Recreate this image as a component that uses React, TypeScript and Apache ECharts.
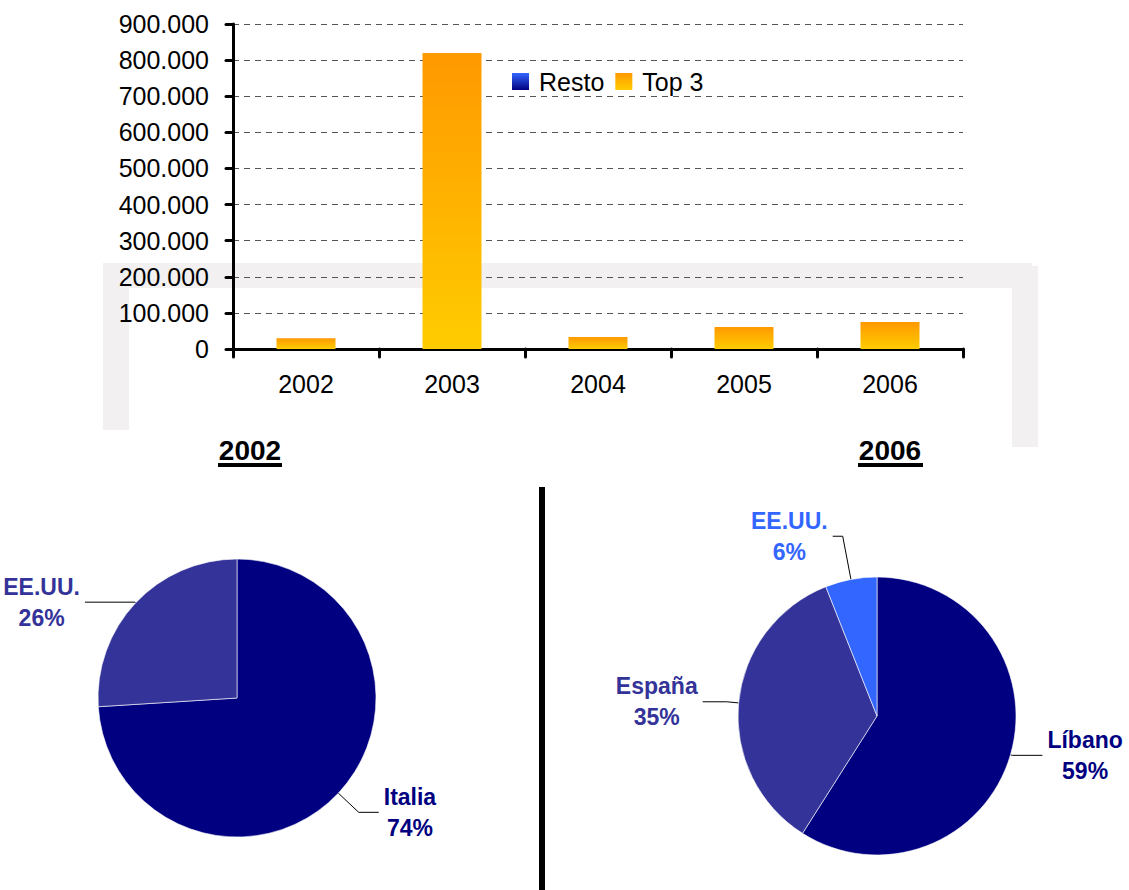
import React, { useEffect, useRef } from "react";
import * as echarts from "echarts";

const years = ["2002", "2003", "2004", "2005", "2006"];
const restoValues = [0, 0, 0, 0, 0];
const top3Values = [30000, 820000, 33000, 61000, 75000];
const yTicks = { min: 0, max: 900000, interval: 100000 };

const pie2002Names = ["Italia", "EE.UU."];
const pie2002Values = [74, 26];
const pie2002Colors = ["#000080", "#333399"];
const pie2002Lines = [
  { length: 28, length2: 20 },
  { length: 1, length2: 50 },
];

const pie2006Names = ["Líbano", "España", "EE.UU."];
const pie2006Values = [59, 35, 6];
const pie2006Colors = ["#000080", "#333399", "#3366FF"];
const pie2006Lines = [
  { length: 2, length2: 30 },
  { length: 12, length2: 24 },
  { length: 44, length2: 10 },
];

const FONT = "'Liberation Sans', Arial, Helvetica, sans-serif";

function fmtThousands(v: number): string {
  return String(v).replace(/\B(?=(\d{3})+(?!\d))/g, ".");
}

function pieData(names: string[], values: number[], colors: string[], lines: any[]) {
  return names.map((n, i) => ({
    name: n,
    value: values[i],
    itemStyle: { color: colors[i] },
    label: { color: colors[i] },
    labelLine: { length: lines[i].length, length2: lines[i].length2 },
  }));
}

function centerLabel(params: any) {
  const pts = params.labelLinePoints;
  if (!pts || pts.length < 3) return {};
  const end = pts[2];
  const dir = end[0] >= pts[1][0] ? 1 : -1;
  const w = params.labelRect.width;
  return {
    x: end[0] + dir * (5 + w / 2),
    y: end[1],
    align: "center",
    verticalAlign: "middle",
    labelLinePoints: pts,
  };
}

const pieLabel = {
  show: true,
  position: "outside",
  alignTo: "none",
  formatter: (p: any) => `${p.name}\n${p.value}%`,
  fontFamily: FONT,
  fontWeight: "bold",
  fontSize: 23,
  lineHeight: 31,
  align: "center",
};

export default function App() {
  const ref = useRef<HTMLDivElement>(null);
  useEffect(() => {
    if (!ref.current) return;
    const chart = echarts.init(ref.current, null, { renderer: "svg" });
    const frame = "#F2F0F0";
    const option: any = {
      animation: false,
      backgroundColor: "#ffffff",
      textStyle: { fontFamily: FONT },
      legend: {
        data: ["Resto", "Top 3"],
        left: 512,
        top: 69,
        padding: 0,
        itemWidth: 17,
        itemHeight: 17,
        itemGap: 11,
        icon: "rect",
        textStyle: { fontSize: 25, color: "#000", fontFamily: FONT, padding: [0, 0, 0, 5] },
      },
      grid: { left: 233, right: 166, top: 24, bottom: 541, outerBoundsMode: "none", containLabel: false },
      xAxis: {
        type: "category",
        data: years,
        boundaryGap: true,
        axisLine: { show: true, lineStyle: { color: "#000", width: 3, cap: "round" } },
        axisTick: { show: true, length: 8, alignWithLabel: false, lineStyle: { color: "#000", width: 3, cap: "round" } },
        axisLabel: { fontSize: 25, color: "#000", margin: 22, fontFamily: FONT },
        splitLine: { show: false },
      },
      yAxis: {
        type: "value",
        min: yTicks.min,
        max: yTicks.max,
        interval: yTicks.interval,
        axisLine: { show: true, lineStyle: { color: "#000", width: 3, cap: "round" } },
        axisTick: { show: true, length: 7, lineStyle: { color: "#000", width: 3, cap: "round" } },
        axisLabel: { fontSize: 25, color: "#000", margin: 24, fontFamily: FONT, formatter: fmtThousands },
        splitLine: { show: true, lineStyle: { color: "#555", width: 1, type: [6, 5] } },
      },
      graphic: [
        { type: "rect", z: -10, shape: { x: 103, y: 263, width: 929, height: 25 }, style: { fill: frame } },
        { type: "rect", z: -10, shape: { x: 103, y: 263, width: 26, height: 167 }, style: { fill: frame } },
        { type: "rect", z: -10, shape: { x: 1012, y: 266, width: 26, height: 181 }, style: { fill: frame } },
        { type: "text", x: 250, y: 450, style: { text: "2002", fill: "#000", font: `bold 28px ${FONT}`, textAlign: "center", textVerticalAlign: "middle" } },
        { type: "rect", shape: { x: 218, y: 463, width: 64, height: 4 }, style: { fill: "#000" } },
        { type: "text", x: 890, y: 450, style: { text: "2006", fill: "#000", font: `bold 28px ${FONT}`, textAlign: "center", textVerticalAlign: "middle" } },
        { type: "rect", shape: { x: 858, y: 463, width: 65, height: 4 }, style: { fill: "#000" } },
        { type: "rect", shape: { x: 539, y: 487, width: 6, height: 410 }, style: { fill: "#000" } },
      ],
      series: [
        {
          name: "Resto",
          type: "bar",
          stack: "total",
          barWidth: 59,
          data: restoValues,
          itemStyle: {
            color: new echarts.graphic.LinearGradient(0, 0, 0, 1, [
              { offset: 0, color: "#3366FF" },
              { offset: 1, color: "#000080" },
            ]),
          },
        },
        {
          name: "Top 3",
          type: "bar",
          stack: "total",
          barWidth: 59,
          data: top3Values,
          itemStyle: {
            color: new echarts.graphic.LinearGradient(0, 0, 0, 1, [
              { offset: 0, color: "#FF9900" },
              { offset: 1, color: "#FFCC00" },
            ]),
          },
        },
        {
          name: "2002",
          type: "pie",
          center: [237, 698],
          radius: 139,
          startAngle: 90,
          clockwise: true,
          avoidLabelOverlap: false,
          itemStyle: { borderColor: "rgba(255,255,255,0.6)", borderWidth: 1 },
          label: pieLabel,
          labelLine: { show: true, lineStyle: { color: "#000", width: 1 } },
          labelLayout: centerLabel,
          emphasis: { disabled: true },
          data: pieData(pie2002Names, pie2002Values, pie2002Colors, pie2002Lines),
        },
        {
          name: "2006",
          type: "pie",
          center: [877, 716],
          radius: 139,
          startAngle: 90,
          clockwise: true,
          avoidLabelOverlap: false,
          itemStyle: { borderColor: "rgba(255,255,255,0.6)", borderWidth: 1 },
          label: pieLabel,
          labelLine: { show: true, lineStyle: { color: "#000", width: 1 } },
          labelLayout: centerLabel,
          emphasis: { disabled: true },
          data: pieData(pie2006Names, pie2006Values, pie2006Colors, pie2006Lines),
        },
      ],
    };
    chart.setOption(option);
    return () => chart.dispose();
  }, []);
  return (
    <div
      ref={ref}
      style={{ position: "absolute", left: 0, top: 0, width: 1129, height: 890 }}
    />
  );
}
